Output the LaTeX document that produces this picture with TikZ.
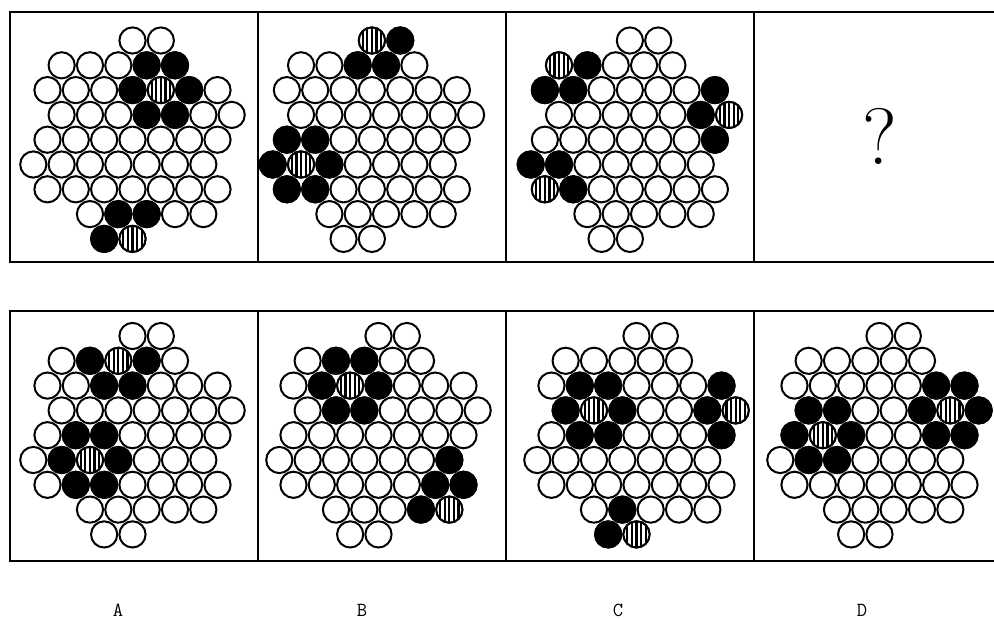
\documentclass[tikz,border=0pt]{standalone}
\usepackage{tikz}

\tikzset{
    frame/.style={draw=black, line width=2.2pt},
    ring/.style={draw=black, line width=2pt, fill=white},
    dot/.style={draw=black, line width=2pt, fill=black},
    hatch/.style={line width=2.2pt, black},
}
\newcommand{\rad}{13.1pt}

% white base of one panel: #1 = x of column 0, #2 = y of row 0
\newcommand{\basegrid}[2]{
    \foreach \row/\cols in {0/{7,9}, 1/{2,4,...,10}, 2/{1,3,...,13}, 3/{2,4,...,14}, 4/{1,3,...,13}, 5/{0,2,...,12}, 6/{1,3,...,13}, 7/{4,6,...,12}, 8/{5,7}} {
        \foreach \col in \cols {
            \draw[ring] (#1+\col*14.17, #2+\row*24.8) circle (\rad);
        }
    }
}
% black circles, #3 = list of row/column
\newcommand{\darks}[3]{
    \foreach \row/\col in {#3} {
        \draw[dot] (#1+\col*14.17, #2+\row*24.8) circle (\rad);
    }
}
% striped circles, #3 = list of row/column
\newcommand{\striped}[3]{
    \foreach \row/\col in {#3} {
        \coordinate (s) at (#1+\col*14.17, #2+\row*24.8);
        \begin{scope}
            \clip (s) circle (\rad);
            \fill[white] (s) circle (\rad);
            \foreach \k in {-3,...,3}
                \draw[hatch] ([xshift=\k*4.6pt, yshift=-15pt]s) -- ([xshift=\k*4.6pt, yshift=15pt]s);
        \end{scope}
        \draw[ring, fill=none] (s) circle (\rad);
    }
}

\begin{document}
\begin{tikzpicture}[x=1pt, y=-1pt]
\useasboundingbox (0,0) rectangle (994,619);

% Frames
\draw[frame] (10,12) rectangle (1000,262);
\draw[frame] (10,311) rectangle (1000,561);
\foreach \x in {258, 506, 754} {
    \draw[frame] (\x,12) -- (\x,262);
    \draw[frame] (\x,311) -- (\x,561);
}

% Top row
\basegrid{33.3}{40.5}
\darks{33.3}{40.5}{1/8, 1/10, 2/7, 2/11, 3/8, 3/10, 7/6, 7/8, 8/5}
\striped{33.3}{40.5}{2/9, 8/7}

\basegrid{272.7}{40.5}
\darks{272.7}{40.5}{0/9, 1/6, 1/8, 4/1, 4/3, 5/0, 5/4, 6/1, 6/3}
\striped{272.7}{40.5}{0/7, 5/2}

\basegrid{530.7}{40.5}
\darks{530.7}{40.5}{1/4, 2/1, 2/3, 2/13, 3/12, 4/13, 5/0, 5/2, 6/3}
\striped{530.7}{40.5}{1/2, 3/14, 6/1}

\node[font=\fontsize{80}{80}\selectfont] (query) at (880,136) {?};

% Bottom row (options)
\basegrid{33.3}{336}
\darks{33.3}{336}{1/4, 1/8, 2/5, 2/7, 4/3, 4/5, 5/2, 5/6, 6/3, 6/5}
\striped{33.3}{336}{1/6, 5/4}

\basegrid{279.3}{336}
\darks{279.3}{336}{1/4, 1/6, 2/3, 2/7, 3/4, 3/6, 5/12, 6/11, 6/13, 7/10}
\striped{279.3}{336}{2/5, 7/12}

\basegrid{537.3}{336}
\darks{537.3}{336}{2/3, 2/5, 2/13, 3/2, 3/6, 3/12, 4/3, 4/5, 4/13, 7/6, 8/5}
\striped{537.3}{336}{3/4, 3/14, 8/7}

\basegrid{780.3}{336}
\darks{780.3}{336}{2/11, 2/13, 3/2, 3/4, 3/10, 3/14, 4/1, 4/5, 4/11, 4/13, 5/2, 5/4}
\striped{780.3}{336}{3/12, 4/3}

% Option labels
\foreach \x/\label in {118/A, 362/B, 618/C, 862/D} {
    \node[font=\ttfamily\fontsize{20}{20}\selectfont] (opt\label) at (\x,610) {\label};
}
\end{tikzpicture}
\end{document}
